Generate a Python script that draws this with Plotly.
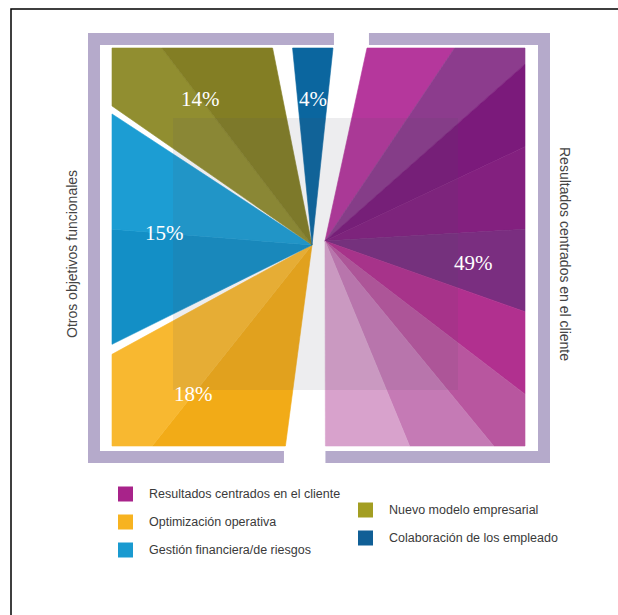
import math

import plotly.graph_objects as go

# data
categories = [
    "Resultados centrados en el cliente",
    "Optimización operativa",
    "Gestión financiera/de riesgos",
    "Nuevo modelo empresarial",
    "Colaboración de los empleado",
]
values = [49, 18, 15, 14, 4]
side_titles = ["Otros objetivos funcionales", "Resultados centrados en el cliente"]

# style
facet_colors = [
    ["#b5379c", "#8c3c8d", "#7b1a7b", "#83207f", "#7a2e80", "#b1308f", "#b8569f", "#c57ab5", "#d8a2cc"],
    ["#f2ab17", "#f8b830"],
    ["#138fc6", "#1c9dd3"],
    ["#918e30", "#837e24"],
    ["#0b669f"],
]
legend_colors = ["#a8238a", "#f7b320", "#1a9ad0", "#a39e22", "#105f96"]
gaps_after = [40, 10, 8, 20, 34]  # white gap (px along the edge) after each slice
bracket_color = "#b5aacb"

# square that holds the slices, in page pixels
X0, Y0, X1, Y1 = 112, 48, 525, 446
W, H = X1 - X0, Y1 - Y0
PER = 2 * (W + H)
CX, CY = 318, 243
APEX_LEFT = (312, 245)
APEX_RIGHT = (325, 241)
START_X = 350


def edge_height(s):
    t = s % PER
    if t < W:
        return CY - Y0
    if t < W + H:
        return X1 - CX
    if t < 2 * W + H:
        return Y1 - CY
    return CX - X0


def next_corner(s):
    base = math.floor(s / PER) * PER
    for c in (0, W, W + H, 2 * W + H, PER, PER + W):
        if base + c > s + 1e-9:
            return base + c


def advance(s, area):
    while True:
        end = next_corner(s)
        rate = 0.5 * edge_height(s)
        cap = rate * (end - s)
        if cap >= area:
            return s + area / rate
        area -= cap
        s = end


def area_between(s1, s2):
    total = 0.0
    s = s1
    while s < s2 - 1e-9:
        end = min(next_corner(s), s2)
        total += 0.5 * edge_height(s) * (end - s)
        s = end
    return total


def point(s):
    t = s % PER
    if t < W:
        return X0 + t, Y0
    if t < W + H:
        return X1, Y0 + (t - W)
    if t < 2 * W + H:
        return X1 - (t - W - H), Y1
    return X0, Y1 - (t - 2 * W - H)


def wedge(apex, s1, s2):
    xs, ys = [apex[0]], [apex[1]]
    s = s1
    while True:
        x, y = point(s)
        xs.append(x)
        ys.append(y)
        if s >= s2 - 1e-9:
            break
        s = min(next_corner(s), s2)
    xs.append(apex[0])
    ys.append(apex[1])
    return xs, ys


def extend(apex, p, y):
    return apex[0] + (y - apex[1]) * (p[0] - apex[0]) / (p[1] - apex[1])


fig = go.Figure()

total_area = W * H
bounds = [START_X - X0]
for v in values:
    bounds.append(advance(bounds[-1], v / sum(values) * total_area))

label_pos = []
for i, v in enumerate(values):
    apex = APEX_RIGHT if i == 0 else APEX_LEFT
    sa = bounds[i] + gaps_after[i - 1] / 2
    sb = bounds[i + 1] - gaps_after[i] / 2
    shades = facet_colors[i]
    part = area_between(sa, sb) / len(shades)
    s = sa
    for k, col in enumerate(shades):
        e = sb if k == len(shades) - 1 else advance(s, part)
        xs, ys = wedge(apex, s, e)
        fig.add_trace(go.Scatter(x=xs, y=ys, mode="lines", fill="toself", fillcolor=col,
                                 line=dict(width=0.6, color=col), hoverinfo="skip"))
        s = e
    mx, my = point(advance(sa, area_between(sa, sb) / 2))
    label_pos.append((apex[0] + 0.74 * (mx - apex[0]), apex[1] + 0.74 * (my - apex[1])))

for (lx, ly), v in zip(label_pos, values):
    fig.add_annotation(x=lx, y=ly, text=f"{v}%", showarrow=False,
                       font=dict(family="Liberation Serif", size=21, color="white"))

# brackets with gaps lined up with the white bands
top_l = extend(APEX_LEFT, point(bounds[0] - gaps_after[4] / 2), 39)
top_r = extend(APEX_RIGHT, point(bounds[0] + gaps_after[4] / 2), 39)
bot_r = extend(APEX_RIGHT, point(bounds[1] - gaps_after[0] / 2), 457)
bot_l = extend(APEX_LEFT, point(bounds[1] + gaps_after[0] / 2), 457)
bars = [
    (88, 33, top_l, 45), (88, 33, 100, 463), (88, 451, bot_l, 463),
    (top_r, 33, 550, 45), (538, 33, 550, 463), (bot_r, 451, 550, 463),
]
for x0, y0, x1, y1 in bars:
    fig.add_shape(type="rect", x0=x0, y0=y0, x1=x1, y1=y1, line_width=0, fillcolor=bracket_color)

fig.add_shape(type="rect", x0=173, y0=118, x1=458, y1=390, line_width=0,
              fillcolor="rgba(80,80,100,0.10)", layer="above")
fig.add_shape(type="rect", x0=11, y0=9, x1=640, y1=640, line=dict(color="black", width=1.5))

fig.add_annotation(x=72, y=254, text=side_titles[0], textangle=-90, showarrow=False,
                   font=dict(family="Liberation Sans", size=14, color="#444"))
fig.add_annotation(x=565, y=254, text=side_titles[1], textangle=90, showarrow=False,
                   font=dict(family="Liberation Sans", size=14, color="#444"))

# legend
legend_xy = [(118, 494), (118, 522), (118, 550), (358, 510), (358, 538)]
for (lx, ly), name, col in zip(legend_xy, categories, legend_colors):
    fig.add_trace(go.Scatter(x=[lx + 7.5], y=[ly], mode="markers",
                             marker=dict(symbol="square", size=15, color=col), hoverinfo="skip"))
    fig.add_annotation(x=lx + 29, y=ly, text=name, xanchor="left", showarrow=False,
                       font=dict(family="Liberation Sans", size=12.5, color="#3a3a3a"))

fig.update_xaxes(range=[0, 618], visible=False)
fig.update_yaxes(range=[615, 0], visible=False)
fig.update_layout(width=618, height=615, margin=dict(l=0, r=0, t=0, b=0),
                  paper_bgcolor="white", plot_bgcolor="white", showlegend=False)

fig.write_html("out.html", config={"displayModeBar": False},
               post_script="document.body.style.margin = '0px';")
